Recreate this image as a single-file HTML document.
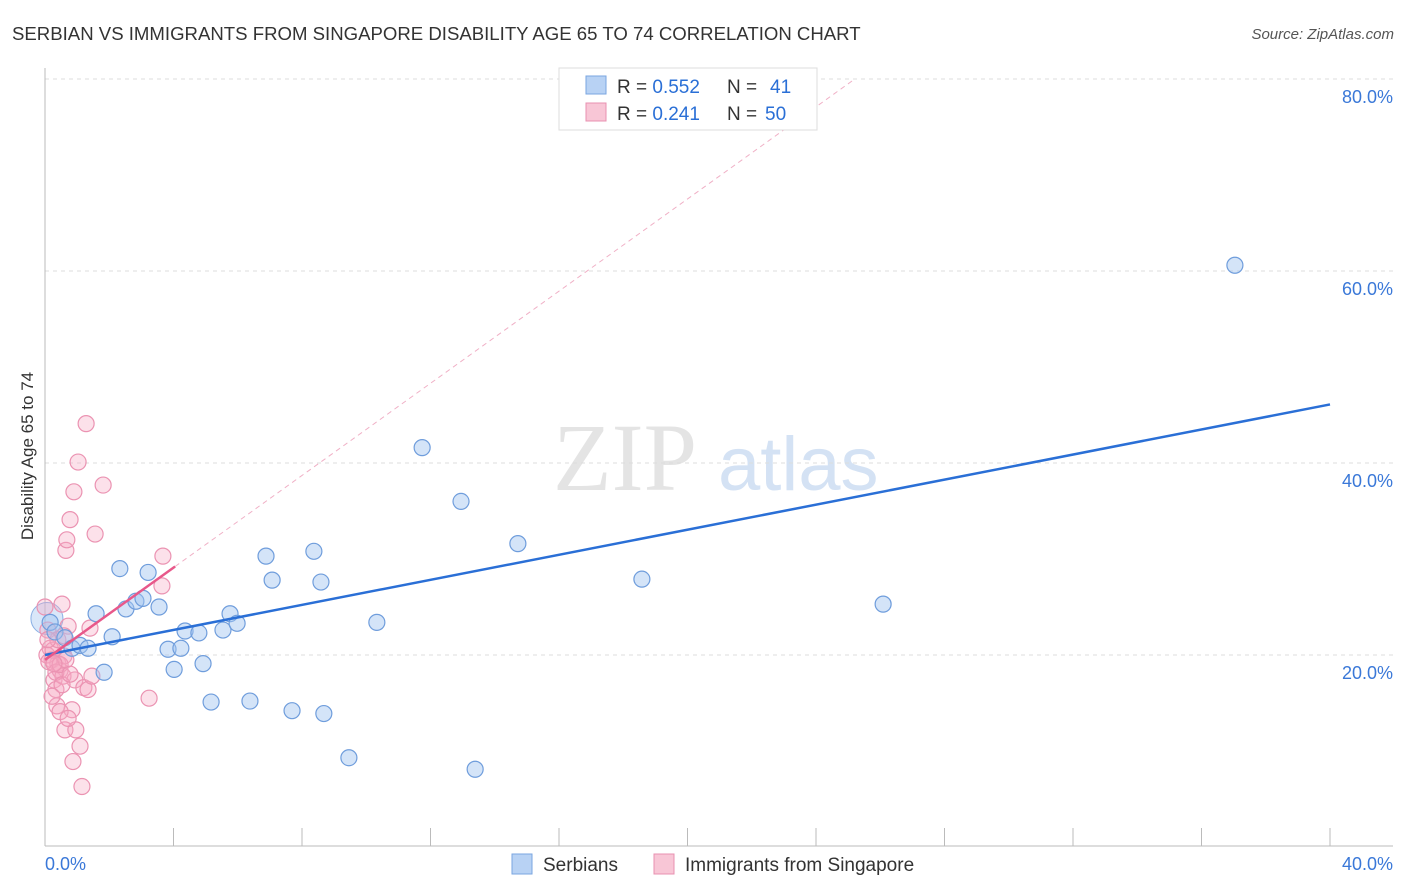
<!DOCTYPE html>
<html><head><meta charset="utf-8"><style>
body{margin:0;background:#fff;font-family:"Liberation Sans",sans-serif;}
svg{display:block}
</style></head><body>
<svg width="1406" height="892">
<text x="12" y="40" font-size="18.6" fill="#333">SERBIAN VS IMMIGRANTS FROM SINGAPORE DISABILITY AGE 65 TO 74 CORRELATION CHART</text>
<text x="1394" y="39" font-size="15" fill="#555" font-style="italic" text-anchor="end">Source: ZipAtlas.com</text>
<g>
<text x="553" y="490" font-size="96" font-family="Liberation Serif,serif" fill="#e4e4e4">ZIP</text>
<text x="718" y="490" font-size="76" fill="#d4e2f4">atlas</text>
</g>
<g id="grid"></g>
<g id="axes"></g>
<g id="marks"></g>
<text x="33" y="456" font-size="17" fill="#333" transform="rotate(-90 33 456)" text-anchor="middle">Disability Age 65 to 74</text>
<g>
<rect x="559" y="68" width="258" height="62" fill="#fff" stroke="#ddd"/>
<rect x="586" y="76" width="20" height="18" fill="#b8d2f4" stroke="#7aa6e0"/>
<rect x="586" y="103" width="20" height="18" fill="#f8c6d6" stroke="#e890b0"/>
<text x="617" y="93" font-size="19" fill="#333">R = <tspan fill="#2a6fd6">0.552</tspan><tspan x="727">N = </tspan><tspan x="770" fill="#2a6fd6">41</tspan></text>
<text x="617" y="120" font-size="19" fill="#333">R = <tspan fill="#2a6fd6"> 0.241</tspan><tspan x="727">N = </tspan><tspan x="765" fill="#2a6fd6">50</tspan></text>
</g>
<g>
<rect x="512" y="854" width="20" height="20" fill="#b8d2f4" stroke="#7aa6e0"/>
<text x="543" y="871" font-size="19" fill="#333">Serbians</text>
<rect x="654" y="854" width="20" height="20" fill="#f8c6d6" stroke="#e890b0"/>
<text x="685" y="871" font-size="19" fill="#333">Immigrants from Singapore</text>
</g>
</svg>
<script>
const yTicks=[20,40,60,80];
const xTickLabels=["0.0%","40.0%"];
const blueX=[0.16,0.31,0.62,0.84,1.09,1.34,1.59,1.84,2.09,2.33,2.52,2.83,3.05,3.21,3.55,3.83,4.02,4.23,4.36,4.79,4.92,5.17,5.54,5.76,5.98,6.38,6.88,7.07,7.69,8.37,8.59,8.68,9.46,10.33,11.74,12.95,13.39,14.72,18.58,26.09,37.04];
const blueY=[23.4,22.4,21.8,20.7,21.0,20.7,24.3,18.2,21.9,29.0,24.8,25.6,25.9,28.6,25.0,20.6,18.5,20.7,22.5,22.3,19.1,15.1,22.6,24.3,23.3,15.2,30.3,27.8,14.2,30.8,27.6,13.9,9.3,23.4,41.6,36.0,8.1,31.6,27.9,25.3,60.6];
const pinkX=[0,0.09,0.16,0.22,0.28,0.34,0.37,0.40,0.47,0.53,0.56,0.59,0.62,0.65,0.68,0.72,0.78,0.84,0.87,0.90,0.93,0.96,1.03,1.09,1.15,1.21,1.28,1.34,1.40,1.46,1.56,1.81,3.24,3.64,3.67,0.06,0.12,0.25,0.34,0.40,0.47,0.53,0.65,0.78,0.28,0.22,0.47,0.59,0.72,0.09];
const pinkY=[25.0,22.6,20.7,19.5,17.4,16.4,14.7,19.1,18.4,25.3,17.8,19.9,12.2,30.9,32.0,23.0,34.1,14.3,8.9,37.0,17.4,12.2,40.1,10.5,6.3,16.6,44.1,16.4,22.8,17.8,32.6,37.7,15.5,27.2,30.3,20.0,19.3,20.5,18.2,21.6,19.0,16.9,19.5,18.0,19.1,15.7,14.1,22.0,13.4,21.6];
const blueTrend=[20.0,46.1];
const pinkTrend=[19.5,2.4];
const NS='http://www.w3.org/2000/svg';
const sx=v=>45+v*32.125, sy=v=>847-v*9.6;
function mk(p,tag,a){const e=document.createElementNS(NS,tag);for(const k in a)e.setAttribute(k,a[k]);p.appendChild(e);return e;}
const grid=document.getElementById('grid'),axes=document.getElementById('axes'),marks=document.getElementById('marks');
yTicks.forEach(t=>{
 const l=mk(grid,'line',{x1:45,x2:1393,y1:sy(t),y2:sy(t),stroke:'#ddd','stroke-dasharray':'4 4'});
 
 
 const tx=mk(axes,'text',{x:1393,y:sy(t)+24,'font-size':18,fill:'#3a78d8','text-anchor':'end'});tx.textContent=t.toFixed(1)+'%';
 
 
});
mk(axes,'line',{x1:45,x2:45,y1:68,y2:846,stroke:'#bbb'});
mk(axes,'line',{x1:45,x2:1393,y1:846,y2:846,stroke:'#bbb'});
for(let i=0;i<=10;i++){const x=sx(i*4);mk(axes,'line',{x1:x,x2:x,y1:828,y2:846,stroke:'#bbb'});}
const t0=mk(axes,'text',{x:45,y:870,'font-size':18,fill:'#3a78d8'});t0.textContent=xTickLabels[0];


const t1=mk(axes,'text',{x:1393,y:870,'font-size':18,fill:'#3a78d8','text-anchor':'end'});t1.textContent=xTickLabels[1];


const bb=mk(marks,'circle',{cx:sx(0.06),cy:sy(23.8),r:16,fill:'rgba(160,196,240,0.4)',stroke:'#8ab0e4'});


pinkX.forEach((x,i)=>{const c=mk(marks,'circle',{cx:sx(x),cy:sy(pinkY[i]),r:8,fill:'rgba(245,170,195,0.35)',stroke:'#eb93b2','stroke-width':1.2});
 
 });
blueX.forEach((x,i)=>{const c=mk(marks,'circle',{cx:sx(x),cy:sy(blueY[i]),r:8,fill:'rgba(160,196,240,0.45)',stroke:'#6f9ddc','stroke-width':1.2});
 
 });
const bl=mk(marks,'line',{x1:sx(0),y1:sy(blueTrend[0]),x2:sx(40),y2:sy(blueTrend[1]),stroke:'#2a6fd6','stroke-width':2.5});


const xEnd=(80-pinkTrend[0])/pinkTrend[1];
const pd=mk(marks,'line',{x1:sx(4.05),y1:sy(pinkTrend[0]+pinkTrend[1]*4.05),x2:sx(xEnd),y2:sy(80),stroke:'#f0b0c6','stroke-width':1,'stroke-dasharray':'5 4'});


const pl=mk(marks,'line',{x1:sx(0),y1:sy(pinkTrend[0]),x2:sx(4.05),y2:sy(pinkTrend[0]+pinkTrend[1]*4.05),stroke:'#e8588a','stroke-width':2.5});


</script>
</body></html>
